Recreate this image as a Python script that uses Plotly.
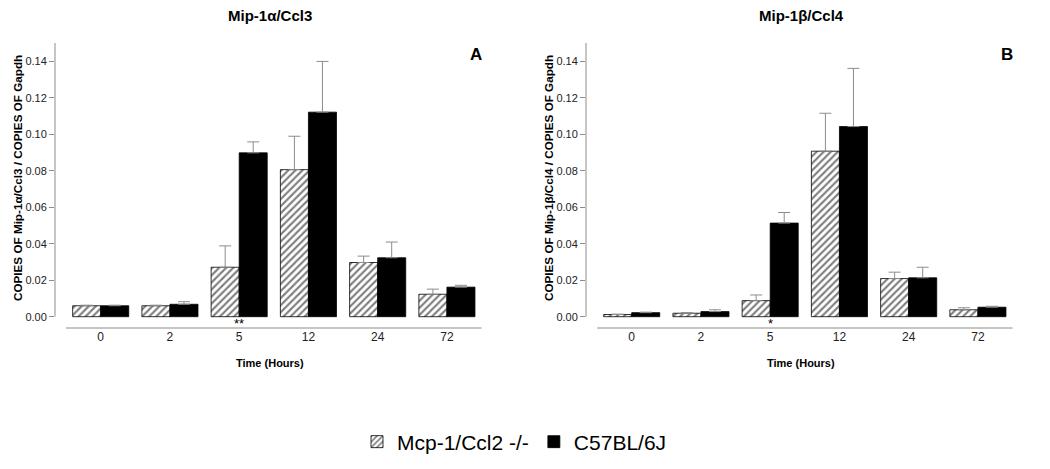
import plotly.graph_objects as go

hours = ["0", "2", "5", "12", "24", "72"]

ccl3_ko = [0.0060, 0.0060, 0.0271, 0.0806, 0.0297, 0.0123]
ccl3_ko_err = [0.0003, 0.0003, 0.0117, 0.0183, 0.0035, 0.0028]
ccl3_wt = [0.0060, 0.0068, 0.0898, 0.1121, 0.0323, 0.0162]
ccl3_wt_err = [0.0003, 0.0014, 0.0060, 0.0278, 0.0086, 0.0010]

ccl4_ko = [0.0012, 0.0019, 0.0088, 0.0907, 0.0209, 0.0038]
ccl4_ko_err = [0.0002, 0.0003, 0.0031, 0.0208, 0.0035, 0.0011]
ccl4_wt = [0.0022, 0.0028, 0.0513, 0.1042, 0.0213, 0.0052]
ccl4_wt_err = [0.0003, 0.0010, 0.0058, 0.0319, 0.0058, 0.0005]

series_names = ["Mcp-1/Ccl2 -/-", "C57BL/6J"]
panel_titles = ["Mip-1\u03b1/Ccl3", "Mip-1\u03b2/Ccl4"]
panel_letters = ["A", "B"]
y_titles = ["COPIES OF Mip-1\u03b1/Ccl3 / COPIES OF Gapdh",
            "COPIES OF Mip-1\u03b2/Ccl4 / COPIES OF Gapdh"]
x_title = "Time (Hours)"
sig_marks = ["**", "*"]
sig_category = "5"

FONT = "Liberation Sans, Arial, sans-serif"
AXIS_GRAY = "#8c8c8c"
ERR_GRAY = "#8c8c8c"

fig = go.Figure()

panels = [(ccl3_ko, ccl3_ko_err, ccl3_wt, ccl3_wt_err, "x", "y"),
          (ccl4_ko, ccl4_ko_err, ccl4_wt, ccl4_wt_err, "x2", "y2")]

for i, (ko, ko_e, wt, wt_e, xa, ya) in enumerate(panels):
    fig.add_trace(go.Bar(
        x=hours, y=ko, name=series_names[0], xaxis=xa, yaxis=ya,
        marker=dict(color="white", line=dict(color="black", width=0.8),
                    pattern=dict(shape="/", fgcolor="black", bgcolor="white",
                                 size=5, solidity=0.42)),
        error_y=dict(type="data", array=ko_e, arrayminus=[0] * len(ko_e),
                     symmetric=False, color=ERR_GRAY, thickness=1, width=6),
        showlegend=(i == 0), legendgroup="ko"))
    fig.add_trace(go.Bar(
        x=hours, y=wt, name=series_names[1], xaxis=xa, yaxis=ya,
        marker=dict(color="black", line=dict(color="black", width=0.8)),
        error_y=dict(type="data", array=wt_e, arrayminus=[0] * len(wt_e),
                     symmetric=False, color=ERR_GRAY, thickness=1, width=6),
        showlegend=(i == 0), legendgroup="wt"))

W, H = 1050, 469
xdoms = [[55 / W, 485 / W], [586 / W, 1016 / W]]
ydom = [1 - 328 / H, 1 - 43 / H]
xrange = [-0.66, 5.55]
yrange = [-0.0062, 0.15]

common_x = dict(type="category", range=xrange, showline=False, showgrid=False,
                zeroline=False, ticks="", automargin=False,
                tickfont=dict(family=FONT, size=12, color="#222"))
common_y = dict(range=yrange, showline=False, showgrid=False, zeroline=False,
                ticks="outside", ticklen=5, tickcolor=AXIS_GRAY, tickwidth=1,
                automargin=False,
                tickvals=[0, 0.02, 0.04, 0.06, 0.08, 0.10, 0.12, 0.14],
                tickformat=".2f", tickfont=dict(family=FONT, size=11, color="#222"))

fig.update_layout(
    xaxis=dict(domain=xdoms[0], anchor="y", **common_x),
    yaxis=dict(domain=ydom, anchor="x", **common_y),
    xaxis2=dict(domain=xdoms[1], anchor="y2", **common_x),
    yaxis2=dict(domain=ydom, anchor="x2", **common_y),
)

sig_index = hours.index(sig_category)

shapes = []
annotations = []
for i, (xr, yr) in enumerate([("x", "y"), ("x2", "y2")]):
    # y axis line
    shapes.append(dict(type="line", xref=f"{xr} domain", yref=yr,
                       x0=0, x1=0, y0=0, y1=0.15,
                       line=dict(color=AXIS_GRAY, width=1)))
    # x axis line (offset below zero)
    shapes.append(dict(type="line", xref=xr, yref=f"{yr} domain",
                       x0=-0.5, x1=5.5, y0=0, y1=0,
                       line=dict(color=AXIS_GRAY, width=1)))
    cx = (xdoms[i][0] + xdoms[i][1]) / 2
    ctr = dict(xanchor="center", yanchor="middle", showarrow=False)
    annotations.append(dict(text=f"<b>{panel_titles[i]}</b>", xref="paper", yref="paper",
                            x=cx, y=1 - 15 / H,
                            font=dict(family=FONT, size=15, color="black"), **ctr))
    annotations.append(dict(text=f"<b>{panel_letters[i]}</b>", xref=f"{xr} domain",
                            yref="paper", x=0.98, y=1 - 54 / H,
                            font=dict(family=FONT, size=17, color="black"), **ctr))
    annotations.append(dict(text=f"<b>{x_title}</b>", xref="paper", yref="paper",
                            x=cx, y=1 - 363 / H,
                            font=dict(family=FONT, size=11, color="black"), **ctr))
    annotations.append(dict(text=f"<b>{y_titles[i]}</b>", xref="paper", yref="paper",
                            x=[17, 548][i] / W, y=1 - 178 / H, textangle=-90,
                            font=dict(family=FONT, size=11.7, color="black"), **ctr))
    annotations.append(dict(text=sig_marks[i], xref=xr, yref=yr,
                            x=sig_index, y=-0.0035,
                            font=dict(family=FONT, size=13, color="black"), **ctr))

fig.update_layout(
    shapes=shapes, annotations=annotations,
    barmode="group", bargap=0.19, bargroupgap=0,
    width=W, height=H,
    margin=dict(l=0, r=0, t=0, b=0, autoexpand=False),
    paper_bgcolor="white", plot_bgcolor="white",
    font=dict(family=FONT, color="black"),
    legend=dict(orientation="h", x=0.49, xanchor="center", y=1 - 442 / H,
                yanchor="middle", font=dict(family=FONT, size=21, color="black"),
                itemwidth=30, bgcolor="rgba(0,0,0,0)"),
)

fig.write_html("out.html", config={"displayModeBar": False},
               post_script="document.body.style.margin='0';document.body.style.overflow='hidden';")
